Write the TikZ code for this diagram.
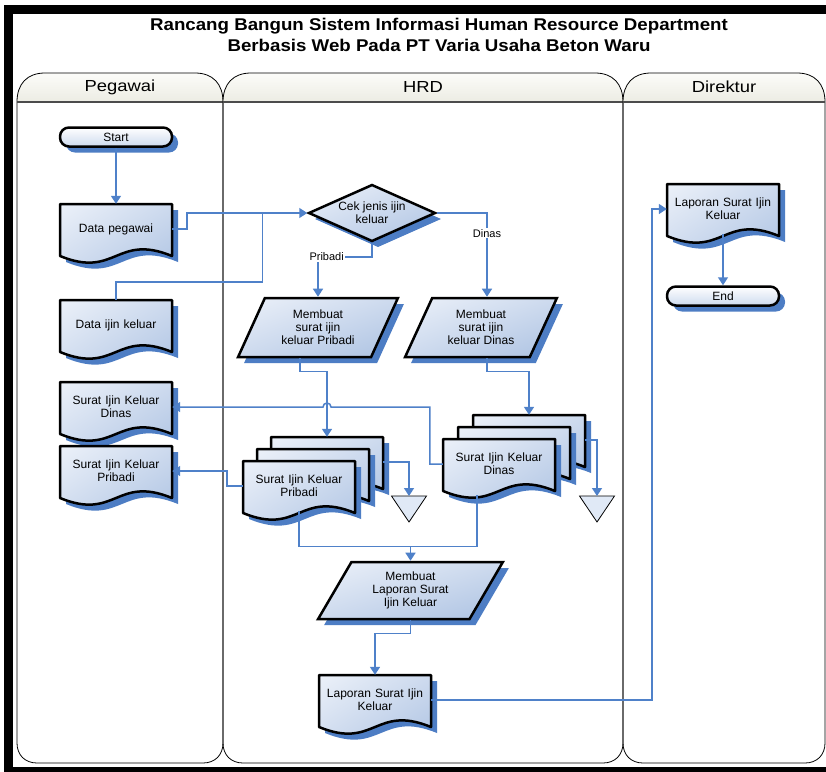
\documentclass[tikz,border=0pt]{standalone}
\usepackage{fontspec}
\setmainfont{Liberation Sans}
\usetikzlibrary{shapes.geometric,arrows.meta,shadows,shadings,calc}

\definecolor{shadowblue}{RGB}{77,125,196}
\definecolor{linkblue}{RGB}{79,129,201}
\definecolor{docA}{RGB}{236,241,249}
\definecolor{docB}{RGB}{205,218,238}
\definecolor{docC}{RGB}{172,194,226}
\definecolor{hdrA}{RGB}{252,252,249}
\definecolor{hdrB}{RGB}{236,236,227}
\definecolor{triblue}{RGB}{224,233,246}

\newcommand{\nodefont}{\fontsize{12}{13}\selectfont}

\tikzset{
  docshade/.style={upper left=docA, upper right=docB, lower left=docB, lower right=docC},
  bshadow/.style={drop shadow={shadow xshift=6pt, shadow yshift=-6pt, fill=shadowblue, opacity=1}},
  doctext/.style={minimum width=112pt, minimum height=50pt, inner sep=0pt, align=center, text width=108pt, font=\nodefont},
  terminal/.style={rectangle, rounded corners=9pt, draw, line width=2.5pt, minimum width=112pt, minimum height=19pt,
    inner sep=0pt, top color=white, bottom color=docB, bshadow, font=\nodefont},
  decision/.style={diamond, aspect=2.2, minimum width=127pt, minimum height=57pt, inner sep=0pt, draw, line width=2.5pt,
    docshade, bshadow, align=center, font=\nodefont},
  process/.style={trapezium, trapezium left angle=62, trapezium right angle=118, trapezium stretches=true,
    minimum width=160pt, minimum height=59pt, inner sep=0pt, draw, line width=2.5pt, docshade, bshadow,
    align=center, font=\nodefont},
  link/.style={draw=linkblue, line width=1.5pt},
  arr/.style={link, -{Triangle[length=8pt,width=10pt]}},
  lbl/.style={fill=white, inner sep=1pt, font=\fontsize{11}{12}\selectfont},
  tri/.style={draw, line width=0.8pt, fill=triblue},
}

% document shape: name, left x, top y, text
\newcommand{\docu}[4]{%
  \fill[shadowblue] ({#2+6},{#3+6}) -- ({#2+118},{#3+6}) -- ({#2+118},{#3+58})
    .. controls ({#2+62},{#3+35}) and ({#2+62},{#3+81}) .. ({#2+6},{#3+58}) -- cycle;
  \shadedraw[docshade, draw=black, line width=2.5pt, line join=round] ({#2},{#3}) -- ({#2+112},{#3}) -- ({#2+112},{#3+52})
    .. controls ({#2+56},{#3+29}) and ({#2+56},{#3+75}) .. ({#2},{#3+52}) -- cycle;
  \node[doctext] (#1) at ({#2+56},{#3+25}) {#4};
}

\begin{document}
\begin{tikzpicture}[x=1pt,y=-1pt]
  \useasboundingbox (0,0) rectangle (826,771);
  \clip (0,0) rectangle (826,771);
  \fill[white] (0,0) rectangle (826,771);

  % frame and title
  \draw[line width=9pt] (8.5,9.5) rectangle (840,771.5);
  \node[inner sep=0pt] (judul) at (439,37)
    {\scalebox{1.1}[1]{\fontsize{17}{20}\selectfont\bfseries
      \begin{tabular}{@{}c@{}}Rancang Bangun Sistem Informasi Human Resource Department\\
      Berbasis Web Pada PT Varia Usaha Beton Waru\end{tabular}}};

  % swimlanes
  \foreach \xa/\xb/\nm in {17/223/Pegawai,223/623/HRD,623/825/Direktur}{
    \draw[line width=0.8pt] (\xa,102) -- (\xa,743) .. controls (\xa,755) and ({\xa+8},763) .. ({\xa+20},763)
      -- ({\xb-20},763) .. controls ({\xb-8},763) and (\xb,755) .. (\xb,743) -- (\xb,102);
    \shade[top color=hdrA, bottom color=hdrB] (\xa,102) .. controls (\xa,84) and ({\xa+10},73) .. ({\xa+28},73)
      -- ({\xb-28},73) .. controls ({\xb-10},73) and (\xb,84) .. (\xb,102) -- cycle;
    \draw[line width=0.8pt] (\xa,102) .. controls (\xa,84) and ({\xa+10},73) .. ({\xa+28},73)
      -- ({\xb-28},73) .. controls ({\xb-10},73) and (\xb,84) .. (\xb,102);
    \draw[line width=2pt, black!70] (\xa,102) -- (\xb,102);
    \node (lane\nm) at ({(\xa+\xb)/2},87) {\scalebox{1.15}[1]{\fontsize{16}{18}\selectfont \nm}};
  }

  % Pegawai
  \node[terminal] (start) at (116,137) {Start};
  \docu{dataPeg}{60}{204}{Data pegawai}
  \docu{dataIjin}{60}{300}{Data ijin keluar}
  \docu{surDinas}{60}{382}{Surat Ijin Keluar\\Dinas}
  \docu{surPri}{60}{446}{Surat Ijin Keluar\\Pribadi}

  % HRD
  \node[decision] (cek) at (372,213) {Cek jenis ijin\\keluar};
  \node[process] (pribadiP) at (318,327.5) {Membuat\\surat ijin\\keluar Pribadi};
  \node[process, minimum width=152pt] (dinasP) at (481,327.5) {Membuat\\surat ijin\\keluar Dinas};
  \docu{priC}{271}{437}{}
  \docu{priB}{257}{449}{}
  \docu{priA}{243}{461}{Surat Ijin Keluar\\Pribadi}
  \docu{dinC}{473}{415}{}
  \docu{dinB}{458}{427}{}
  \docu{dinA}{443}{439}{Surat Ijin Keluar\\Dinas}
  \coordinate (triP) at (409,496);
  \coordinate (triD) at (597,496);
  \draw[tri] (triP) ++(-17.5,0) -- ++(35,0) -- ++(-17.5,26) -- cycle;
  \draw[tri] (triD) ++(-17.5,0) -- ++(35,0) -- ++(-17.5,26) -- cycle;
  \node[process, minimum width=185pt, minimum height=57pt, trapezium left angle=60, trapezium right angle=120]
    (laporanP) at (410.5,590.5) {Membuat\\Laporan Surat\\Ijin Keluar};
  \docu{lapDoc}{319}{675}{Laporan Surat Ijin\\Keluar}

  % Direktur
  \docu{dirDoc}{667}{184}{Laporan Surat Ijin\\Keluar}
  \node[terminal] (endT) at (723,296) {End};

  % connectors
  \draw[arr] (start) -- (dataPeg);
  \draw[arr] (dataPeg.east) -- ++(15,0) |- (cek.west);
  \draw[link] (dataIjin.north) -- ++(0,-18) -| ($(cek.west)+(-45,0)$);
  \draw[arr] (cek.south) -- ++(0,14) -| node[lbl, pos=0.42] {Pribadi} (pribadiP.center |- pribadiP.north);
  \draw[arr] (cek.east) -| node[lbl, pos=0.62] {Dinas} ([xshift=6pt]dinasP.center |- dinasP.north);
  \draw[arr] ([xshift=-18pt]pribadiP.center |- pribadiP.south) -- ++(0,13) -| (priC.north);
  \draw[arr] ([xshift=6pt]dinasP.center |- dinasP.south) -- ++(0,13) -| (dinC.north);
  \draw[arr] (priC.east) -| (triP);
  \draw[arr] (dinC.east) -| (triD);
  \draw[arr] (dinA.west) -- ++(-13,0) |- ($(surDinas.east -| priC.north)+(4,0)$)
    arc[start angle=0, end angle=180, radius=4pt] -- (surDinas.east);
  \draw[arr] (priA.west) -- ++(-16,0) |- (surPri.east);
  \coordinate (merge) at ($(laporanP.center |- laporanP.north)+(0,-14)$);
  \draw[link] (priA.south) |- (merge);
  \draw[link] ([xshift=-22pt,yshift=-6pt]dinA.south) |- (merge);
  \draw[arr] (merge) -- (laporanP.center |- laporanP.north);
  \draw[arr] (laporanP.center |- laporanP.south) -- ++(0,13) -| (lapDoc.north);
  \draw[arr] (lapDoc.east) -| ($(dirDoc.west)+(-15,0)$) -- (dirDoc.west);
  \draw[arr] (dirDoc) -- (endT);
\end{tikzpicture}
\end{document}
